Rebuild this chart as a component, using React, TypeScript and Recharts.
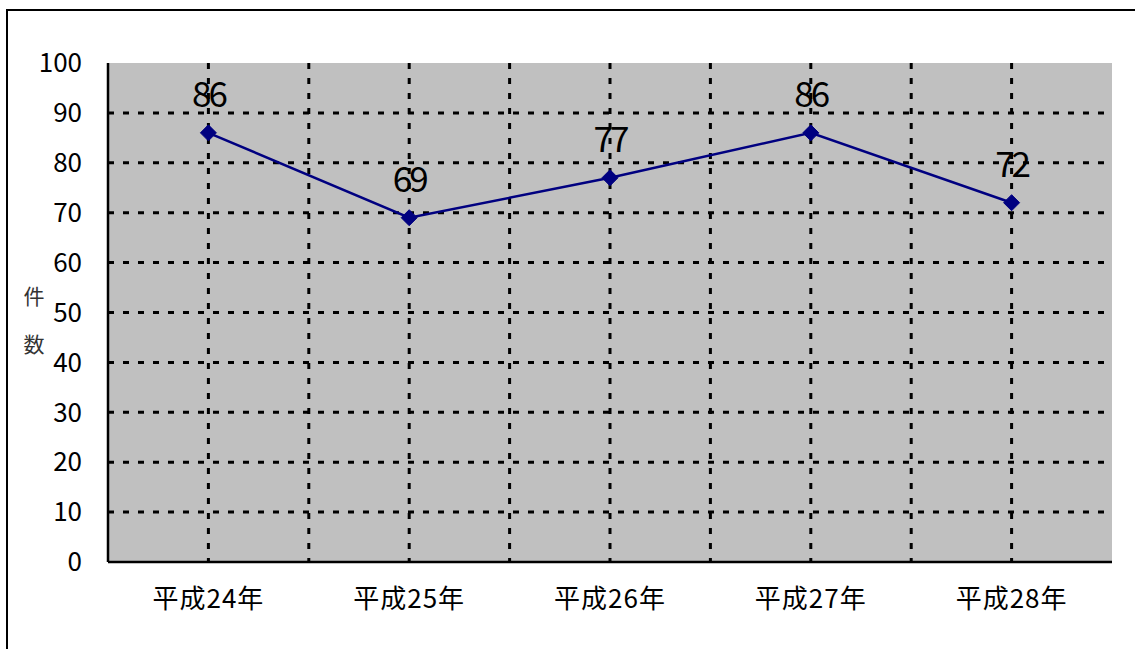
import React from "react";
import {
  LineChart,
  Line,
  XAxis,
  YAxis,
  CartesianGrid,
  LabelList,
  Label,
} from "recharts";

// 年度ごとの件数
const years = ["平成24年", "平成25年", "平成26年", "平成27年", "平成28年"];
const counts = [86, 69, 77, 86, 72];
const yTicks = [0, 10, 20, 30, 40, 50, 60, 70, 80, 90, 100];

const data = years.map((name, i) => ({ name, count: counts[i] }));

const FONT = "'Noto Sans CJK JP', 'Noto Sans', sans-serif";
const NAVY = "#000080";

// ひし形のマーカー
const Diamond = (props: any) => {
  const { cx, cy } = props;
  if (cx == null || cy == null) return null;
  const r = 8;
  return (
    <polygon
      points={`${cx},${cy - r} ${cx + r},${cy} ${cx},${cy + r} ${cx - r},${cy}`}
      fill={NAVY}
      stroke={NAVY}
    />
  );
};

const ValueLabel = (props: any) => {
  const { x, y, width, value } = props;
  return (
    <text
      x={x + (width || 0) / 2}
      y={y - 26}
      textAnchor="middle"
      fontFamily={FONT}
      fontSize={35}
      letterSpacing={-3}
      fill="#000"
    >
      {value}
    </text>
  );
};

const AxisTitle = () => (
  <text fontFamily={FONT} fontSize={21} fill="#333" textAnchor="middle">
    <tspan x={34} y={304}>件</tspan>
    <tspan x={34} y={352}>数</tspan>
  </text>
);

export default function App() {
  return (
    <div
      style={{
        position: "absolute",
        left: 0,
        top: 0,
        width: 1135,
        height: 649,
        overflow: "hidden",
        background: "#fff",
      }}
    >
      <div
        style={{
          position: "absolute",
          left: 6,
          top: 9,
          width: 1129,
          height: 640,
          borderLeft: "2px solid #000",
          borderTop: "2px solid #000",
          boxSizing: "border-box",
        }}
      />
      <div style={{ position: "absolute", left: 0, top: 0 }}>
        <LineChart
          width={1135}
          height={649}
          data={data}
          margin={{ top: 63, right: 23, bottom: 37, left: 48 }}
        >
          <CartesianGrid
            fill="#C0C0C0"
            stroke="#000"
            strokeWidth={3}
            strokeDasharray="6 9"
            horizontalCoordinatesGenerator={({ offset }: any) =>
              yTicks
                .filter((t) => t > 0 && t < 100)
                .map((t) => offset.top + offset.height * (1 - t / 100))
            }
            verticalCoordinatesGenerator={({ offset }: any) =>
              Array.from({ length: years.length * 2 - 1 }, (_, i) =>
                offset.left + (offset.width * (i + 1)) / (years.length * 2)
              )
            }
          />
          <XAxis
            dataKey="name"
            scale="band"
            height={50}
            axisLine={{ stroke: "#000", strokeWidth: 2.5 }}
            tickLine={false}
            tick={{ fill: "#000", fontSize: 26, fontFamily: FONT, letterSpacing: 1 }}
            tickMargin={22}
            interval={0}
          />
          <YAxis
            domain={[0, 100]}
            ticks={yTicks}
            width={60}
            axisLine={{ stroke: "#000", strokeWidth: 2.5 }}
            tickLine={false}
            tickMargin={20}
            tick={{ fill: "#000", fontSize: 26, fontFamily: FONT }}
            interval={0}
          >
            <Label content={<AxisTitle />} />
          </YAxis>
          <YAxis
            yAxisId="r"
            orientation="right"
            width={0}
            domain={[0, 100]}
            tick={false}
            tickLine={false}
            axisLine={{ stroke: "#808080", strokeWidth: 2, strokeDasharray: "10 5" }}
          />
          <XAxis
            xAxisId="t"
            orientation="top"
            dataKey="name"
            height={0}
            tick={false}
            tickLine={false}
            axisLine={{ stroke: "#808080", strokeWidth: 2, strokeDasharray: "10 5" }}
          />
          <Line
            type="linear"
            dataKey="count"
            stroke={NAVY}
            strokeWidth={2.5}
            dot={<Diamond />}
            activeDot={false}
            isAnimationActive={false}
          >
            <LabelList dataKey="count" content={<ValueLabel />} />
          </Line>
        </LineChart>
      </div>
    </div>
  );
}
